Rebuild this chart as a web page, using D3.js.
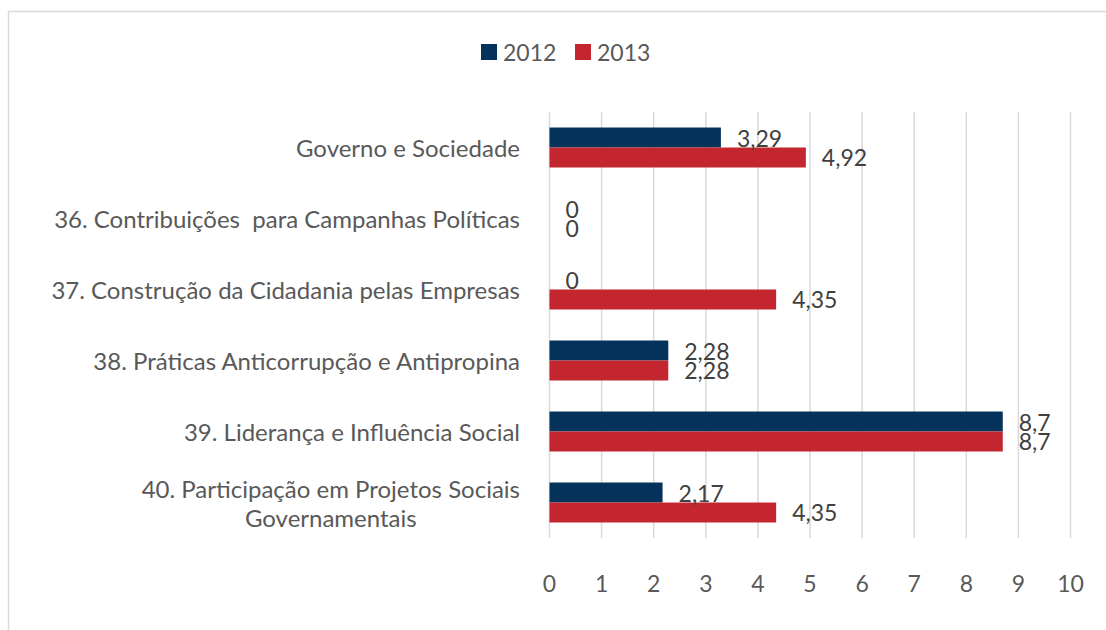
<!DOCTYPE html>
<html>
<head>
<meta charset="utf-8">
<script src="https://cdn.jsdelivr.net/npm/d3@7"></script>
<style>
  html, body { margin: 0; padding: 0; background: #fff; }
  svg { display: block; font-family: Lato, "Open Sans", sans-serif; }
</style>
</head>
<body>
<svg id="chart"></svg>
<script>
const categories = [
  "Governo e Sociedade",
  "36. Contribuições  para Campanhas Políticas",
  "37. Construção da Cidadania pelas Empresas",
  "38. Práticas Anticorrupção e Antipropina",
  "39. Liderança e Influência Social",
  "40. Participação em Projetos Sociais|Governamentais"
];
const seriesNames = ["2012", "2013"];
const values2012 = [3.29, 0, 0, 2.28, 8.7, 2.17];
const values2013 = [4.92, 0, 4.35, 2.28, 8.7, 4.35];
const xTicks = [0, 1, 2, 3, 4, 5, 6, 7, 8, 9, 10];
const colors = ["#04325a", "#c3262f"];

const width = 1106, height = 630;
const plotLeft = 549.5, plotRight = 1070.5, plotTop = 112, plotBottom = 538;

const svg = d3.select("#chart")
  .attr("width", width)
  .attr("height", height)
  .attr("viewBox", [0, 0, width, height]);

// outer border of chart area
svg.append("rect")
  .attr("x", 8.5).attr("y", 11.5)
  .attr("width", 1110).attr("height", 640)
  .attr("fill", "#fff")
  .attr("stroke", "#d9d9d9")
  .attr("stroke-width", 1.5);

const x = d3.scaleLinear().domain([0, 10]).range([plotLeft, plotRight]);
const y = d3.scaleBand().domain(categories).range([plotTop, plotBottom])
  .paddingInner(0.437).paddingOuter(0.2185);
const ySub = d3.scaleBand().domain(seriesNames).range([0, y.bandwidth()]);

// gridlines
svg.append("g")
  .selectAll("line")
  .data(xTicks)
  .join("line")
  .attr("x1", d => x(d)).attr("x2", d => x(d))
  .attr("y1", plotTop).attr("y2", plotBottom)
  .attr("stroke", "#d9d9d9")
  .attr("stroke-width", 1.5);

// x tick labels
svg.append("g")
  .selectAll("text")
  .data(xTicks)
  .join("text")
  .attr("x", d => x(d))
  .attr("y", 583)
  .attr("text-anchor", "middle")
  .attr("dominant-baseline", "central")
  .attr("font-size", 23)
  .attr("fill", "#595959")
  .text(d => d);

const rows = categories.map((c, i) => ({ cat: c, vals: [values2012[i], values2013[i]] }));

const grp = svg.append("g")
  .selectAll("g")
  .data(rows)
  .join("g")
  .attr("transform", d => `translate(0,${y(d.cat)})`);

grp.selectAll("rect")
  .data(d => d.vals.map((v, j) => ({ v, s: seriesNames[j], j })))
  .join("rect")
  .attr("x", x(0))
  .attr("y", d => ySub(d.s))
  .attr("width", d => x(d.v) - x(0))
  .attr("height", ySub.bandwidth())
  .attr("fill", d => colors[d.j]);

grp.selectAll("text.val")
  .data(d => d.vals.map((v, j) => ({ v, s: seriesNames[j], j })))
  .join("text")
  .attr("class", "val")
  .attr("x", d => x(d.v) + 16)
  .attr("y", d => ySub(d.s) + ySub.bandwidth() / 2)
  .attr("dominant-baseline", "central")
  .attr("font-size", 23)
  .attr("fill", "#404040")
  .text(d => String(d.v).replace(".", ","));

// category labels
const labelRight = 520;
const catG = svg.append("g");
rows.forEach(r => {
  const lines = r.cat.split("|");
  const cy = y(r.cat) + y.bandwidth() / 2;
  if (lines.length === 1) {
    catG.append("text")
      .attr("x", labelRight)
      .attr("y", cy)
      .attr("text-anchor", "end")
      .attr("dominant-baseline", "central")
      .attr("font-size", 24)
      .attr("fill", "#595959")
      .style("white-space", "pre")
      .text(lines[0]);
  } else {
    const t = catG.append("g");
    const texts = lines.map((l, k) => t.append("text")
      .attr("y", cy + (k - (lines.length - 1) / 2) * 29)
      .attr("text-anchor", "middle")
      .attr("dominant-baseline", "central")
      .attr("font-size", 24)
      .attr("fill", "#595959")
      .text(l));
    const maxW = d3.max(texts, s => s.node().getComputedTextLength());
    texts.forEach(s => s.attr("x", labelRight - maxW / 2));
  }
});

// legend
const legend = svg.append("g");
const legendX = [481, 575];
seriesNames.forEach((s, i) => {
  legend.append("rect")
    .attr("x", legendX[i]).attr("y", 44)
    .attr("width", 16).attr("height", 16)
    .attr("fill", colors[i]);
  legend.append("text")
    .attr("x", legendX[i] + 22)
    .attr("y", 52)
    .attr("dominant-baseline", "central")
    .attr("font-size", 23)
    .attr("fill", "#595959")
    .text(s);
});
</script>
</body>
</html>
